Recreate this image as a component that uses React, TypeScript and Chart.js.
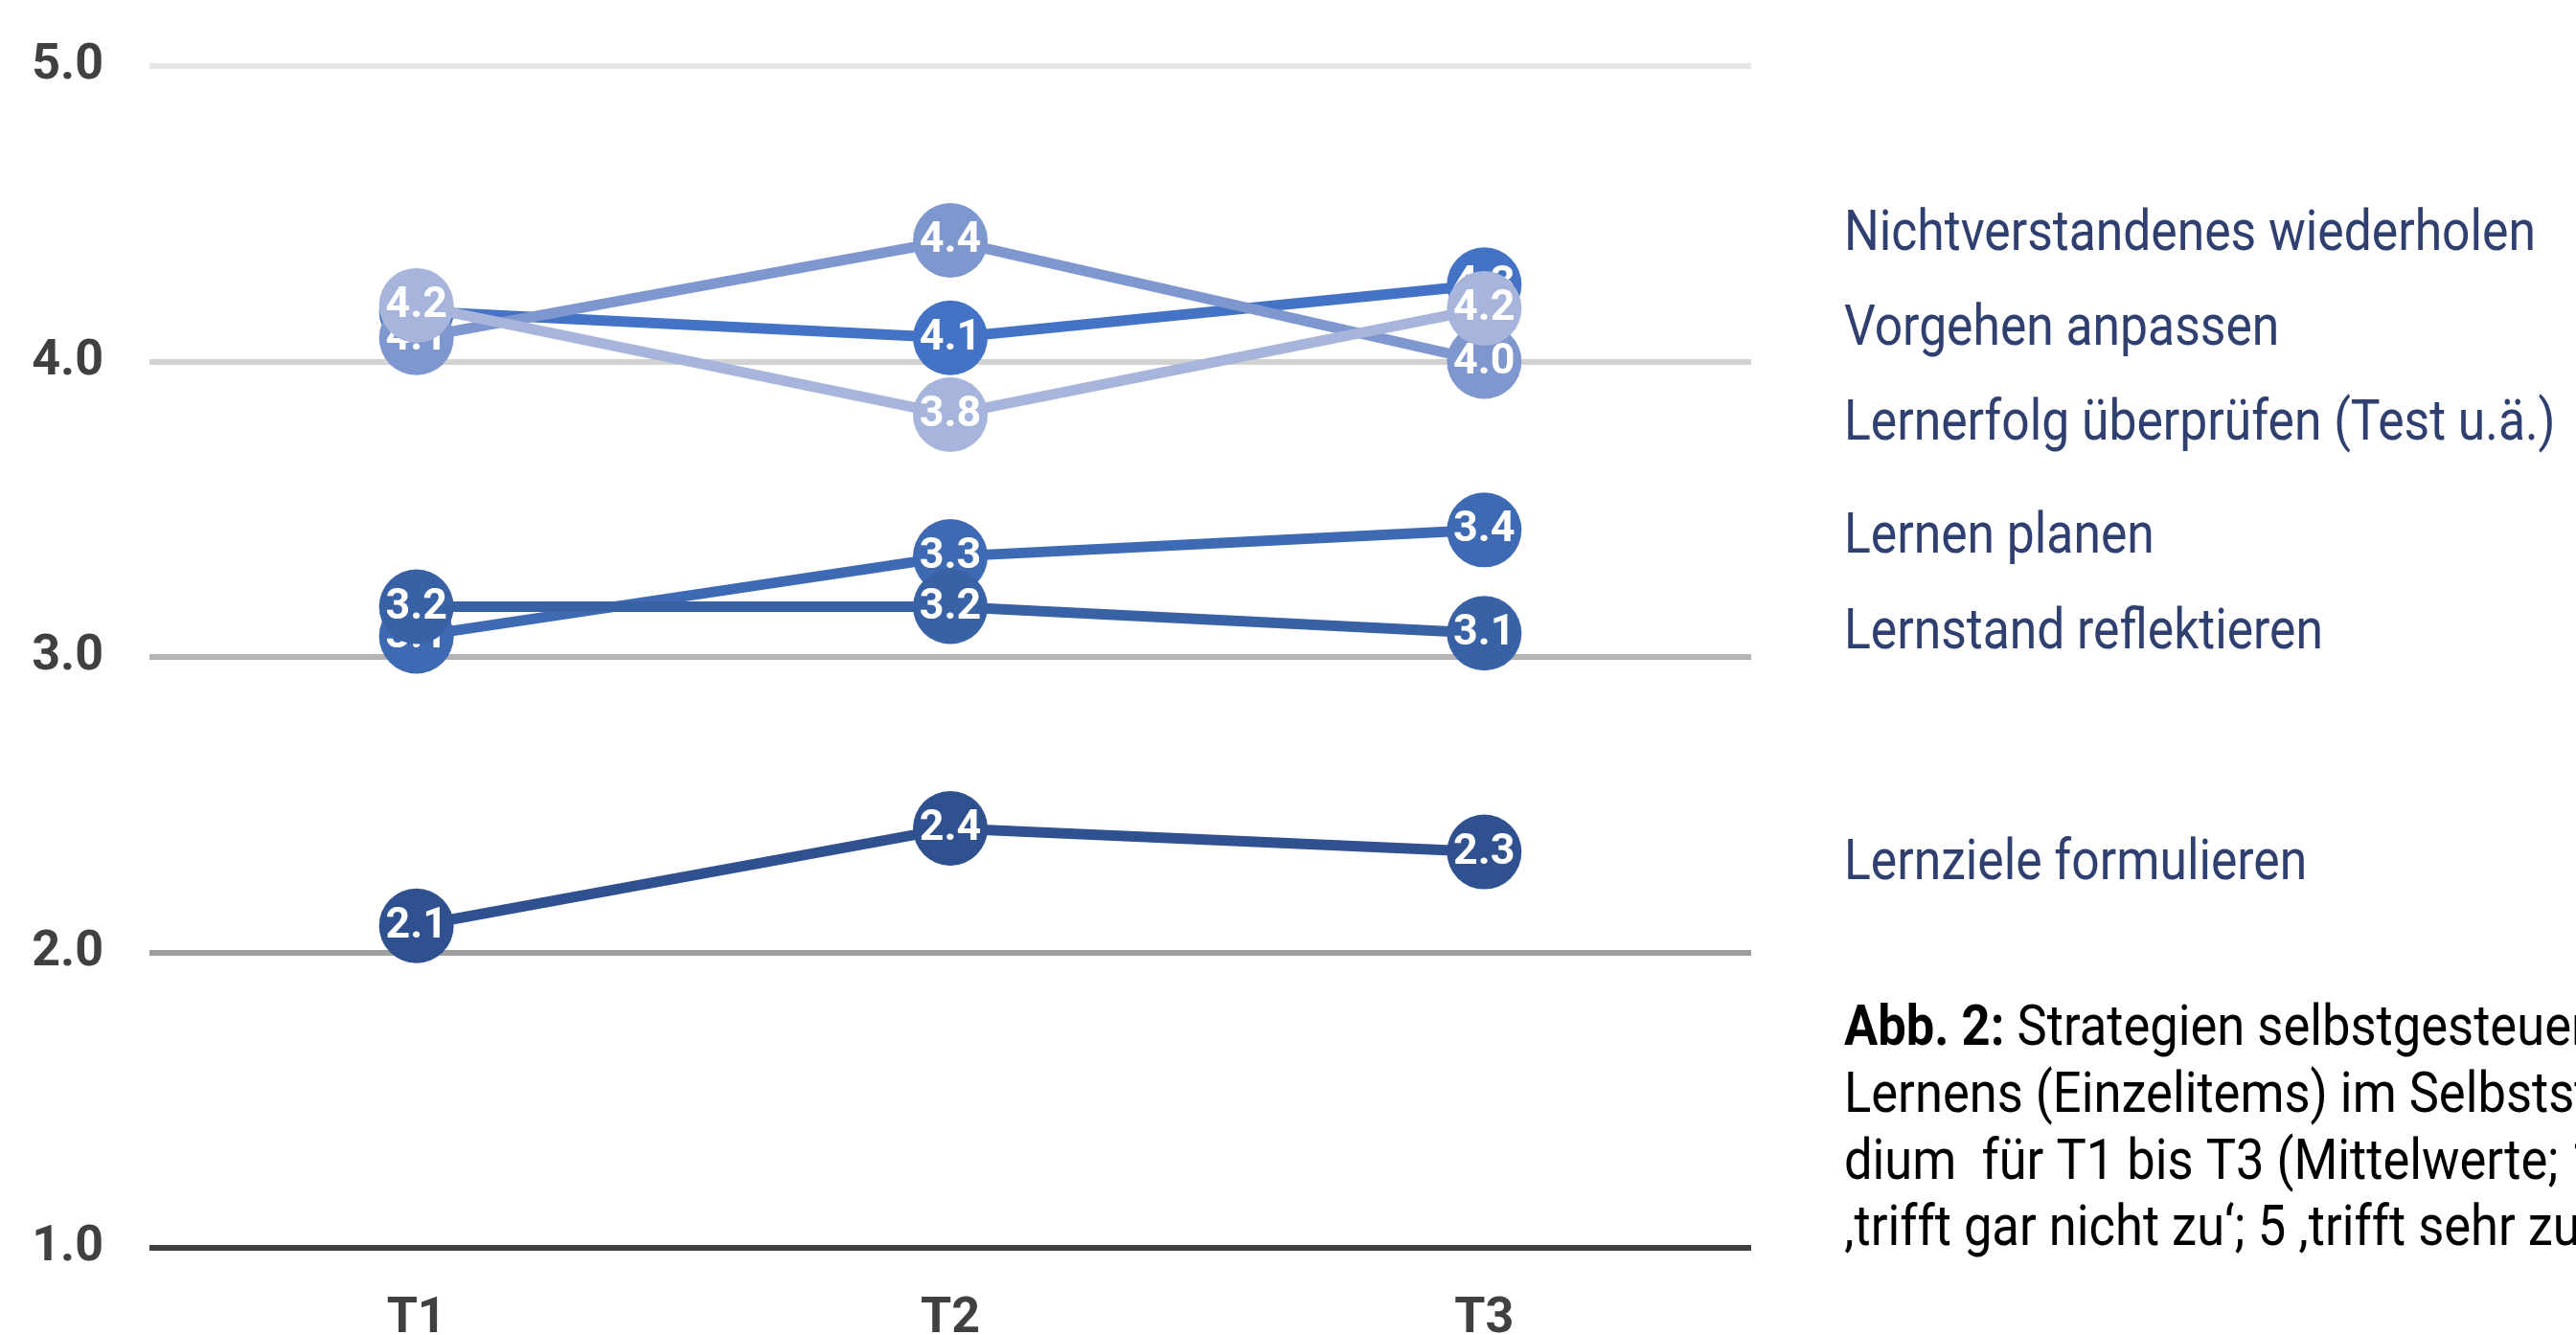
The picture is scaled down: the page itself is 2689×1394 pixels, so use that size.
import React, { useEffect, useRef } from 'react';
import { Chart, registerables } from 'chart.js';

Chart.register(...registerables);

// ---- data ----
const categories = ['T1', 'T2', 'T3'];
const seriesNames = [
  'Nichtverstandenes wiederholen',
  'Vorgehen anpassen',
  'Lernerfolg überprüfen (Test u.ä.)',
  'Lernen planen',
  'Lernstand reflektieren',
  'Lernziele formulieren',
];
const nichtverstandenesWiederholen = [4.08, 4.41, 4.0];
const vorgehenAnpassen = [4.17, 4.08, 4.26];
const lernerfolgUeberpruefen = [4.19, 3.82, 4.18];
const lernenPlanen = [3.07, 3.34, 3.43];
const lernstandReflektieren = [3.17, 3.17, 3.08];
const lernzieleFormulieren = [2.09, 2.42, 2.34];
const yTickValues = [1, 2, 3, 4, 5];
const captionBold = 'Abb. 2:';
const captionLines = [
  ' Strategien selbstgesteuerten',
  'Lernens (Einzelitems) im Selbststu-',
  'dium  für T1 bis T3 (Mittelwerte; 1',
  '‚trifft gar nicht zu‘; 5 ‚trifft sehr zu‘)',
];

// ---- styles / layout ----
const W = 2689;
const H = 1394;
const seriesColors = ['#7f97cf', '#4472c4', '#a7b5dc', '#3e6ab4', '#3961a5', '#2f5190'];
const drawOrder = [1, 2, 0, 1, 0, 0];
const gridColors: Record<number, string> = {
  1: '#404040',
  2: '#9e9e9e',
  3: '#b4b4b4',
  4: '#d2d2d2',
  5: '#e6e6e6',
};
const LEGEND_X = 1925;
const LEGEND_BASELINES = [261, 360, 459, 577, 677, 918];
const CAPTION_X = 1925;
const CAPTION_BASELINES = [1091, 1161, 1231, 1300];
const LEGEND_SCALE_X = 0.86;
const CAPTION_SCALE_X = 0.875;

const allSeries = [
  nichtverstandenesWiederholen,
  vorgehenAnpassen,
  lernerfolgUeberpruefen,
  lernenPlanen,
  lernstandReflektieren,
  lernzieleFormulieren,
];

const pointLabelPlugin = {
  id: 'pointLabels',
  afterDatasetDraw(chart: any, args: any) {
    const ctx = chart.ctx;
    const meta = args.meta;
    const ds = chart.data.datasets[args.index];
    ctx.save();
    ctx.font = '700 44px Roboto';
    ctx.fillStyle = '#ffffff';
    ctx.textAlign = 'center';
    ctx.textBaseline = 'middle';
    meta.data.forEach((pt: any, i: number) => {
      const v = ds.data[i] as number;
      ctx.save();
      ctx.translate(pt.x, pt.y + 1);
      ctx.scale(1.02, 1.0);
      ctx.fillText(v.toFixed(1), 0, 0);
      ctx.restore();
    });
    ctx.restore();
  },
};

const sideTextPlugin = {
  id: 'sideText',
  afterDraw(chart: any) {
    const ctx = chart.ctx;
    ctx.save();
    ctx.textAlign = 'left';
    ctx.textBaseline = 'alphabetic';
    // legend (series names)
    ctx.fillStyle = '#2f4070';
    ctx.font = '400 60px Roboto';
    chart.data.datasets.forEach((ds: any, i: number) => {
      ctx.save();
      ctx.translate(LEGEND_X, LEGEND_BASELINES[i]);
      ctx.scale(LEGEND_SCALE_X, 1);
      ctx.fillText(ds.label, 0, 0);
      ctx.restore();
    });
    // caption
    ctx.fillStyle = '#000000';
    captionLines.forEach((line, i) => {
      ctx.save();
      ctx.translate(CAPTION_X, CAPTION_BASELINES[i]);
      ctx.scale(CAPTION_SCALE_X, 1);
      let x = 0;
      if (i === 0) {
        ctx.font = '700 60px Roboto';
        ctx.fillText(captionBold, 0, 0);
        x = ctx.measureText(captionBold).width;
      }
      ctx.font = '400 60px Roboto';
      ctx.fillText(line, x, 0);
      ctx.restore();
    });
    ctx.restore();
  },
};

export default function App() {
  const canvasRef = useRef<HTMLCanvasElement | null>(null);

  useEffect(() => {
    if (!canvasRef.current) return;
    const chart = new Chart(canvasRef.current, {
      type: 'line',
      data: {
        labels: categories,
        datasets: allSeries.map((values, i) => ({
          label: seriesNames[i],
          data: values,
          borderColor: seriesColors[i],
          backgroundColor: seriesColors[i],
          pointBackgroundColor: seriesColors[i],
          pointBorderWidth: 0,
          pointRadius: 39,
          pointHoverRadius: 39,
          borderWidth: 11,
          tension: 0,
          fill: false,
          order: drawOrder[i],
          clip: false as any,
        })),
      },
      options: {
        animation: false,
        responsive: false,
        devicePixelRatio: 1,
        events: [],
        layout: { padding: { left: 0, right: W - 1828, top: 69, bottom: 0 } },
        plugins: {
          legend: { display: false },
          tooltip: { enabled: false },
          title: { display: false },
        },
        scales: {
          x: {
            type: 'category',
            offset: true,
            grid: { display: false, drawTicks: false },
            border: { display: false },
            ticks: {
              padding: 44,
              color: '#404040',
              font: { family: 'Roboto', weight: 'bold', size: 52 },
            },
            afterFit: (scale: any) => {
              scale.height = H - 1303;
              scale.paddingLeft = 0;
              scale.paddingRight = 0;
            },
          },
          y: {
            min: 1,
            max: 5,
            afterBuildTicks: (scale: any) => {
              scale.ticks = yTickValues.map((v) => ({ value: v }));
            },
            grid: {
              drawTicks: false,
              lineWidth: 6,
              color: (c: any) => gridColors[Math.round(c.tick?.value ?? 1)] || '#d2d2d2',
            },
            border: { display: false },
            ticks: {
              padding: 48,
              color: '#404040',
              font: { family: 'Roboto', weight: 'bold', size: 52 },
              callback: (v: any) => Number(v).toFixed(1),
            },
            afterFit: (scale: any) => {
              scale.width = 156;
              scale.paddingTop = 0;
              scale.paddingBottom = 0;
            },
          },
        },
      },
      plugins: [pointLabelPlugin, sideTextPlugin],
    });
    return () => chart.destroy();
  }, []);

  return (
    <div style={{ position: 'fixed', left: 0, top: 0, width: W, height: H, overflow: 'hidden', background: '#fff' }}>
      <canvas ref={canvasRef} width={W} height={H} style={{ display: 'block', width: W, height: H }} />
    </div>
  );
}
